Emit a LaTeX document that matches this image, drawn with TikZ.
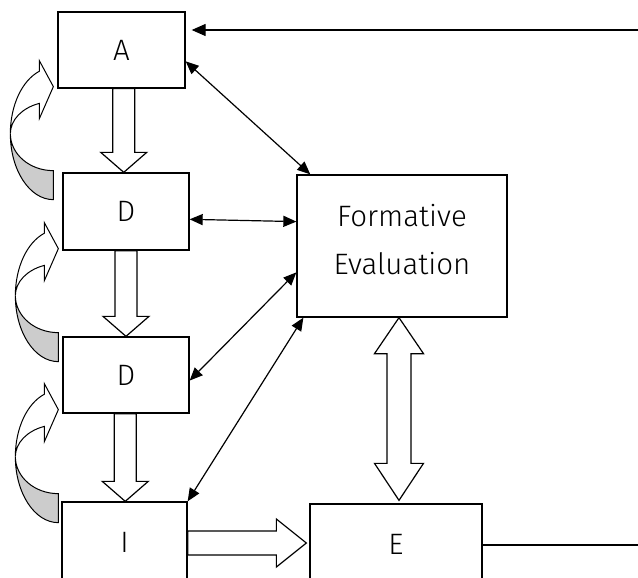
\documentclass[tikz,border=0pt]{standalone}
\usepackage{fontspec}
\setmainfont{Fira Sans Light}
\usetikzlibrary{arrows.meta,calc,positioning}

\tikzset{
  box/.style={draw, line width=1.3pt, inner sep=0pt, font=\fontsize{29.5}{48}\selectfont},
  thinarrow/.style={line width=1.2pt, {Triangle[length=13pt,width=11pt]}-{Triangle[length=13pt,width=11pt]}},
  blockarrow/.style={draw, line width=1.2pt, fill=white, line join=miter},
  loopback/.pic={
    % front band with head
    \draw[line width=1pt, fill=white] (180:43 and 66) arc[start angle=180, end angle=251, x radius=43, y radius=66]
      -- (-14,-73) -- (0,-47) -- (-14,-15)
      -- (251:43 and 32) arc[start angle=251, end angle=180, x radius=43, y radius=32] -- cycle;
    % back band
    \draw[line width=1pt, fill=gray!40] (180:43 and 66) arc[start angle=180, end angle=90, x radius=43, y radius=66]
      -- (0,37) arc[start angle=90, end angle=180, x radius=43, y radius=37] -- cycle;
  }
}

\newcommand\downblock[2]{%
  \draw[blockarrow] let \p1=($(#1.south)!.5!(#2.north)$), \p2=(#1.south), \p3=(#2.north) in
    (\x1-11pt,\y2) -- (\x1-11pt,\y3+20pt) -- (\x1-23pt,\y3+20pt) -- (\x1,\y3)
    -- (\x1+23pt,\y3+20pt) -- (\x1+11pt,\y3+20pt) -- (\x1+11pt,\y2) -- cycle;}

\begin{document}
\begin{tikzpicture}[x=1pt, y=-1pt]
  \path[use as bounding box, clip] (0,0) rectangle (638,578);

  \node[box, minimum width=127pt, minimum height=76pt] (a) at (121.5,50) {A};
  \node[box, minimum width=126pt, minimum height=77pt] (d1) at (126,211.5) {D};
  \node[box, minimum width=126pt, minimum height=76pt] (d2) at (126,375) {D};
  \node[box, minimum width=125pt, minimum height=80pt] (i) at (124.5,542) {I};
  \node[box, minimum width=210pt, minimum height=142pt, align=center, text depth=14pt] (fe) at (402,246) {Formative\\Evaluation};
  \node[box, minimum width=172pt, minimum height=80pt] (e) at (396,544) {E};
  \coordinate (topin) at (638,30);
  \coordinate (botout) at (638,545);

  % loops on the left
  \pic at ([shift={(-4,45)}]a.south west) {loopback};
  \pic at ([shift={(-4,45)}]d1.south west) {loopback};
  \pic at ([shift={(-4,43)}]d2.south west) {loopback};

  % block arrows
  \downblock{a}{d1}
  \downblock{d1}{d2}
  \downblock{d2}{i}
  \draw[blockarrow] let \p1=($(i.east)!.5!(e.west)$), \p2=(i.east), \p3=(e.west) in
    (\x2,\y1-12pt) -- (\x3-33pt,\y1-12pt) -- (\x3-33pt,\y1-24pt) -- (\x3-3pt,\y1)
    -- (\x3-33pt,\y1+24pt) -- (\x3-33pt,\y1+12pt) -- (\x2,\y1+12pt) -- cycle;
  \draw[blockarrow] let \p1=($(fe.south)!.5!(e.north)$), \p2=(fe.south), \p3=(e.north) in
    (\x1,\y2) -- (\x1+24.5pt,\y2-36pt) -- (\x1+12pt,\y2-36pt) -- (\x1+12pt,\y3+40pt)
    -- (\x1+24.5pt,\y3+40pt) -- (\x1,\y3+3pt) -- (\x1-24.5pt,\y3+40pt) -- (\x1-12pt,\y3+40pt)
    -- (\x1-12pt,\y2-36pt) -- (\x1-24.5pt,\y2-36pt) -- cycle;

  % thin arrows
  \draw[thinarrow] (a.-10) -- (fe.142);
  \draw[thinarrow] (d1.-7) -- (fe.167);
  \draw[thinarrow] (d2.-5) -- (fe.194);
  \draw[thinarrow] (i.north east) -- (fe.216);
  \draw[line width=1.2pt, -{Triangle[length=14pt,width=12pt]}, shorten >=6pt] (topin) -- (a.east |- topin);
  \draw[line width=1.2pt] (e.east |- botout) -- (botout);
\end{tikzpicture}
\end{document}
